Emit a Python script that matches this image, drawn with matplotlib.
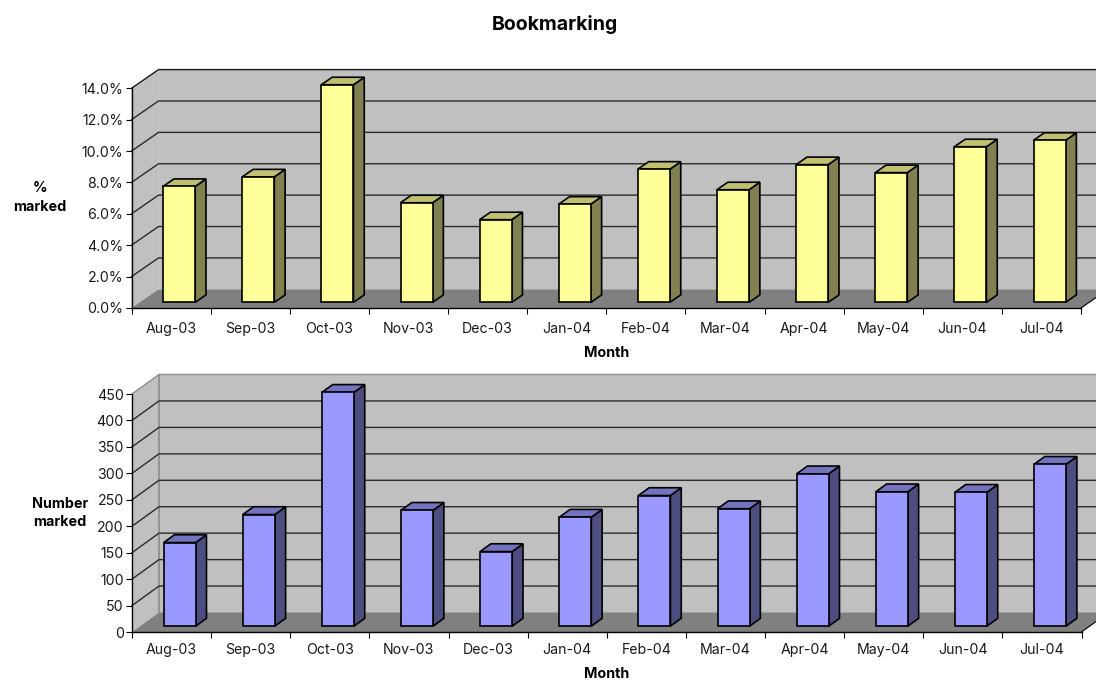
import matplotlib
matplotlib.use('Agg')
import matplotlib.pyplot as plt
from matplotlib.patches import Polygon
from matplotlib.ticker import FuncFormatter

# Inter is close to the letter-spaced Arial of the original
plt.rcParams['font.family'] = ['Inter', 'Liberation Sans', 'DejaVu Sans']

months = ['Aug-03', 'Sep-03', 'Oct-03', 'Nov-03', 'Dec-03', 'Jan-04',
          'Feb-04', 'Mar-04', 'Apr-04', 'May-04', 'Jun-04', 'Jul-04']
pct_marked = [7.39, 8.0, 13.87, 6.35, 5.27, 6.26, 8.49, 7.18, 8.78, 8.27, 9.92, 10.33]
num_marked = [158, 211, 442, 219, 141, 206, 247, 222, 288, 254, 253, 306]

WIDTH, HEIGHT = 1096, 680
BAR_WIDTH = 0.405
DEPTH_X = 27 / 79.1  # depth of the box in category units


def draw_chart(ax, values, ymax, ystep, depth_y, colors, back_edge, top_edge, xpad):
    """Fake the old Excel 3D column look on a normal 2D axes."""
    front, top, side = colors
    ax.set_xlim(0, 12)
    ax.set_ylim(0, ymax)
    for s in ['top', 'right']:
        ax.spines[s].set_visible(False)
    for s in ['left', 'bottom']:
        ax.spines[s].set_linewidth(1.0)
        ax.spines[s].set_zorder(6)

    def shift(x, y, d):
        return (x + d * DEPTH_X, y + d * depth_y)

    # walls and floor
    ax.add_patch(Polygon([shift(0, 0, 1), shift(12, 0, 1), shift(12, ymax, 1), shift(0, ymax, 1)],
                         fc='#C0C0C0', ec='none', clip_on=False, zorder=1))
    ax.add_patch(Polygon([(0, 0), shift(0, 0, 1), shift(0, ymax, 1), (0, ymax)],
                         fc='#C0C0C0', ec='none', clip_on=False, zorder=1))
    ax.add_patch(Polygon([(0, 0), (12, 0), shift(12, 0, 1), shift(0, 0, 1)],
                         fc='#808080', ec='none', clip_on=False, zorder=2))
    ax.plot(*zip((12, 0), shift(12, 0, 1)), color='black', lw=0.8, clip_on=False, zorder=3)
    ax.plot(*zip(shift(0, 0, 1), shift(0, ymax, 1)), color=back_edge, lw=1.2, clip_on=False, zorder=2)

    # gridlines run along the side wall then along the back wall
    yticks = [ystep * i for i in range(int(round(ymax / ystep)) + 1)]
    for y in yticks[1:]:
        pts = [(0, y), shift(0, y, 1), shift(12, y, 1)]
        c = top_edge if y == yticks[-1] else '#2b2b2b'
        ax.plot(*zip(*pts), color=c, lw=1.0, clip_on=False, zorder=2,
                solid_joinstyle='miter')

    # columns
    for i, v in enumerate(values):
        x0 = i + 0.5 - BAR_WIDTH / 2
        x1 = i + 0.5 + BAR_WIDTH / 2
        d0, d1 = 0.3, 0.7
        faces = [
            ([shift(x1, 0, d0), shift(x1, 0, d1), shift(x1, v, d1), shift(x1, v, d0)], side),
            ([shift(x0, v, d0), shift(x1, v, d0), shift(x1, v, d1), shift(x0, v, d1)], top),
            ([shift(x0, 0, d0), shift(x1, 0, d0), shift(x1, v, d0), shift(x0, v, d0)], front),
        ]
        for pts, c in faces:
            ax.add_patch(Polygon(pts, fc=c, ec='black', lw=1.2, clip_on=False,
                                 zorder=4, joinstyle='miter'))

    ax.set_yticks(yticks)
    ax.set_xticks(range(13))
    ax.set_xticklabels([])
    ax.set_xticks([i + 0.5 for i in range(12)], minor=True)
    ax.set_xticklabels(months, minor=True)
    ax.tick_params(axis='x', which='major', length=4, width=0.8, color='black')
    ax.tick_params(axis='x', which='minor', length=0, pad=xpad, labelsize=10.2, labelcolor='#1a1a1a')
    ax.tick_params(axis='y', length=4, width=0.8, pad=2, labelsize=10.2, labelcolor='#1a1a1a')
    ax.set_xlabel('Month', fontsize=10.3, fontweight='bold', labelpad=7)


def place_axes(fig, left, right, bottom, top):
    return fig.add_axes([left / WIDTH, 1 - bottom / HEIGHT,
                         (right - left) / WIDTH, (bottom - top) / HEIGHT])


fig = plt.figure(figsize=(WIDTH / 100, HEIGHT / 100), dpi=100)

ax1 = place_axes(fig, 131.5, 1081, 308, 88.3)
draw_chart(ax1, pct_marked, 14, 2, 18.7 / 15.69,
           ('#FFFF99', '#C0C070', '#808050'), '#C0C0C0', '#1a1a1a', 10)
ax1.yaxis.set_major_formatter(FuncFormatter(lambda v, _: f'{v:.1f}%'))
ax1.set_ylabel('%\nmarked', rotation=0, fontsize=10.3, fontweight='bold', linespacing=1.45,
               ha='center', va='center')
ax1.yaxis.set_label_coords((40 - 131.5) / 949.5, 0.505)

ax2 = place_axes(fig, 132, 1081.5, 632, 394)
draw_chart(ax2, num_marked, 450, 50, 19.5 / 0.529,
           ('#9999FF', '#7373C0', '#4D4D80'), '#8c8c8c', '#8c8c8c', 8)
ax2.set_ylabel('Number\nmarked', rotation=0, fontsize=10.3, fontweight='bold', linespacing=1.4,
               ha='center', va='center')
ax2.yaxis.set_label_coords((60 - 132) / 949.5, 0.5)

fig.text(555 / WIDTH, 1 - 24 / HEIGHT, 'Bookmarking', fontsize=14, fontweight='bold',
         ha='center', va='center')

fig.savefig('out.png', dpi=100)
